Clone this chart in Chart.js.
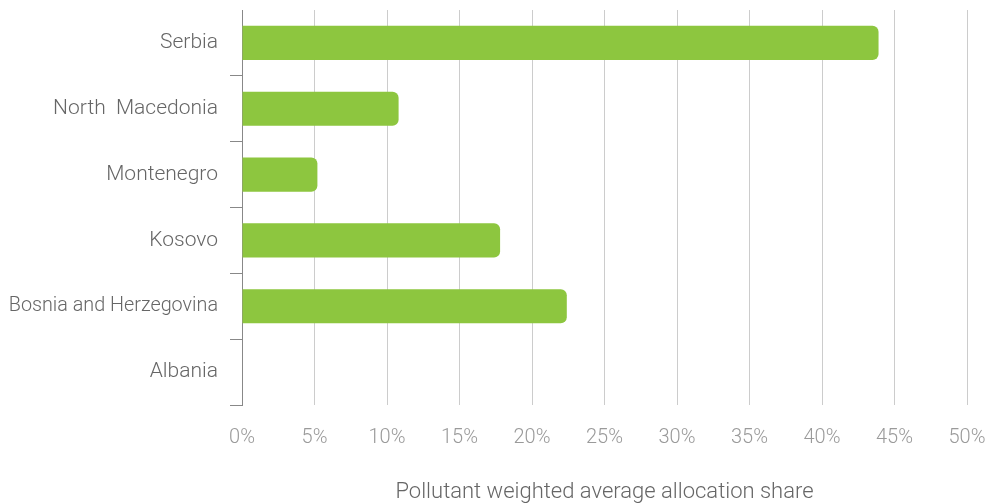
<!DOCTYPE html>
<html>
<head>
<meta charset="utf-8">
<script src="https://cdn.jsdelivr.net/npm/chart.js@4/dist/chart.umd.min.js"></script>
<style>
    html, body { margin: 0; padding: 0; background: #fff; }
    #wrap { width: 987px; height: 503px; }
</style>
</head>
<body>
<div id="wrap"><canvas id="allocChart" width="987" height="503"></canvas></div>
<script>
const countries = ["Serbia", "North  Macedonia", "Montenegro", "Kosovo", "Bosnia and Herzegovina", "Albania"];
const shares = [43.9, 10.8, 5.2, 17.8, 22.4, 0];
const xTicks = [0, 5, 10, 15, 20, 25, 30, 35, 40, 45, 50];

const fontFamily = "Roboto, 'Open Sans', sans-serif";

new Chart(document.getElementById("allocChart"), {
    type: "bar",
    data: {
        labels: countries,
        datasets: [
            {
                data: shares,
                backgroundColor: "#8dc63f",
                borderRadius: 6,
                borderSkipped: "start",
                barPercentage: 0.52,
                categoryPercentage: 1
            }
        ]
    },
    options: {
        indexAxis: "y",
        responsive: false,
        animation: false,
        layout: {
            padding: { top: 10, right: 0, bottom: 0, left: 0 }
        },
        plugins: {
            legend: { display: false },
            tooltip: { enabled: false }
        },
        scales: {
            x: {
                min: 0,
                max: 50,
                z: 1,
                afterBuildTicks: (axis) => {
                    axis.ticks = xTicks.map(v => ({ value: v }));
                },
                afterFit: (axis) => {
                    axis.height = 98;
                    axis.paddingRight = 20;
                },
                grid: {
                    color: "#cccccc",
                    lineWidth: 1,
                    drawTicks: false
                },
                border: { display: false },
                ticks: {
                    padding: 21,
                    color: "#9a9a9a",
                    font: { family: fontFamily, size: 20, weight: 300 },
                    callback: (v) => v + "%"
                },
                title: {
                    display: true,
                    text: "Pollutant weighted average allocation share",
                    color: "#666",
                    font: { family: fontFamily, size: 22, weight: 300, lineHeight: 1 },
                    padding: { top: 0, bottom: 0 }
                }
            },
            y: {
                afterFit: (axis) => {
                    axis.width = 242;
                    axis.paddingTop = 0;
                    axis.paddingBottom = 0;
                },
                grid: {
                    drawOnChartArea: false,
                    offset: true,
                    tickLength: 12,
                    tickColor: (ctx) => ctx.index === 0 ? "rgba(0,0,0,0)" : "#888"
                },
                border: { display: true, color: "#888", width: 1 },
                ticks: {
                    padding: 12,
                    color: "#666",
                    // the long Bosnia label is set a little tighter
                    font: (ctx) => ({
                        family: fontFamily,
                        size: ctx.index === 4 ? 19.8 : 21,
                        weight: 300
                    })
                }
            }
        }
    }
});
</script>
</body>
</html>
